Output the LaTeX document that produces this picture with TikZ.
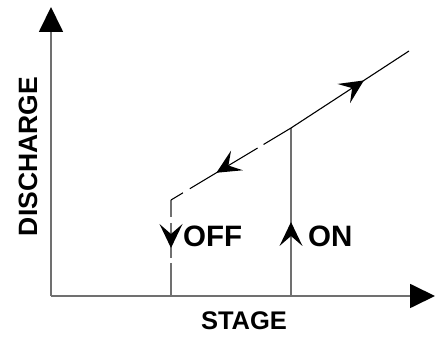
\documentclass[tikz,border=0pt]{standalone}
\usepackage{fontspec}
\setmainfont{Liberation Sans}
\usetikzlibrary{arrows.meta,decorations.markings}
\definecolor{axisgray}{RGB}{112,112,112}
\begin{document}
\begin{tikzpicture}[x=1pt,y=-1pt,
  axisline/.style={draw=axisgray,line width=1.8pt,-{Triangle[length=25pt,width=24pt,color=black]}},
  guide/.style={draw=axisgray,line width=1.4pt},
  loopline/.style={draw=black,line width=1.1pt},
  flowmark/.style={postaction={decorate},decoration={markings,mark=at position #1 with {\fill[black] (0,0) -- (-24,-11.5) -- (-14,0) -- (-24,11.5) -- cycle;}}},
  tagtext/.style={font=\bfseries\fontsize{29.5}{30}\selectfont,inner sep=0pt,anchor=base west},
  axistext/.style={font=\bfseries\fontsize{#1}{#1}\selectfont,inner sep=0pt,anchor=base}
]
\useasboundingbox (0,0) rectangle (437,339);
\coordinate (O) at (51,296);
\coordinate (ytip) at (51,7);
\coordinate (xtip) at (435,296);
\coordinate (offtop) at (171,200);
\coordinate (offbase) at (171,296);
\coordinate (ontop) at (291,128);
\coordinate (onbase) at (291,296);
\coordinate (lineend) at (409,51);

\draw[guide, dash pattern=on 17pt off 6pt on 35pt off 5pt on 60pt, flowmark=48pt] (offtop) -- (offbase);
\draw[guide, flowmark=74pt] (onbase) -- (ontop);
\draw[loopline, flowmark=87pt] (ontop) -- (lineend);
\draw[loopline, dash pattern=on 32pt off 7pt on 79pt off 8pt on 30pt, flowmark=87pt] (ontop) -- (offtop);

\draw[axisline] (O) -- (ytip);
\draw[axisline] (O) -- (xtip);

\node[tagtext] (off) at (183,247) {OFF};
\node[tagtext] (on) at (308,247) {ON};
\node[axistext=25.5] (stage) at (244,330) {STAGE};
\node[axistext=26.5, rotate=90] (discharge) at (37,156.5) {DISCHARGE};
\end{tikzpicture}
\end{document}
